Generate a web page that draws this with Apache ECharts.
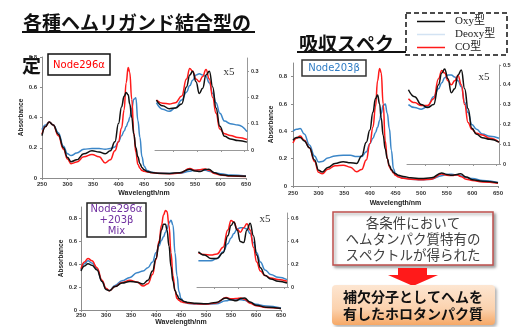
<!DOCTYPE html>
<html>
<head>
<meta charset="utf-8">
<script src="https://cdn.jsdelivr.net/npm/echarts@6/dist/echarts.min.js"></script>
<style>
  html, body { margin: 0; padding: 0; background: #fff; }
  #chart { width: 514px; height: 327px; }
</style>
</head>
<body>
<div id="chart"></div>
<script>
// wavelengths (nm) sampled for the full spectra
const wl = [250, 257, 264, 272, 282, 292, 300, 307, 318, 332, 348, 362, 374, 384, 393, 400, 406, 411, 415, 419,
  422, 426, 430, 434, 438, 442, 446, 450, 456, 465, 480, 500, 520, 540, 550, 560, 570, 577, 588, 600, 620, 650];
// wavelengths for the x5 insets (Q band region)
const wlQ = [465, 478, 492, 505, 518, 528, 535, 541, 548, 555, 562, 569, 576, 583, 590, 598, 608, 620, 636, 655];

// Node296α
const oxy1 = [0.28, 0.34, 0.37, 0.35, 0.29, 0.2, 0.135, 0.108, 0.12, 0.16, 0.18, 0.172, 0.16, 0.18, 0.24, 0.36, 0.47, 0.54, 0.565, 0.55,
  0.49, 0.4, 0.29, 0.2, 0.14, 0.095, 0.07, 0.055, 0.043, 0.036, 0.031, 0.03, 0.035, 0.058, 0.046, 0.043, 0.056, 0.058, 0.035, 0.022, 0.015, 0.012];
const deoxy1 = [0.32, 0.35, 0.37, 0.35, 0.3, 0.21, 0.16, 0.148, 0.165, 0.19, 0.195, 0.195, 0.19, 0.195, 0.205, 0.24, 0.28, 0.31, 0.34, 0.37,
  0.4, 0.46, 0.52, 0.53, 0.38, 0.27, 0.14, 0.08, 0.05, 0.038, 0.032, 0.03, 0.032, 0.045, 0.052, 0.055, 0.052, 0.045, 0.035, 0.028, 0.02, 0.014];
const co1 = [0.29, 0.34, 0.37, 0.35, 0.28, 0.19, 0.125, 0.095, 0.105, 0.14, 0.155, 0.14, 0.1, 0.12, 0.18, 0.24, 0.33, 0.45, 0.63, 0.73,
  0.7, 0.52, 0.3, 0.17, 0.09, 0.065, 0.05, 0.045, 0.04, 0.035, 0.03, 0.028, 0.033, 0.062, 0.052, 0.055, 0.06, 0.052, 0.03, 0.02, 0.013, 0.01];
const oxyQ1 = [0.19, 0.168, 0.157, 0.16, 0.175, 0.24, 0.285, 0.3, 0.26, 0.215, 0.235, 0.285, 0.3, 0.24, 0.16, 0.09, 0.052, 0.042, 0.036, 0.03];
const deoxyQ1 = [0.18, 0.155, 0.147, 0.16, 0.19, 0.22, 0.245, 0.265, 0.285, 0.29, 0.285, 0.28, 0.255, 0.215, 0.18, 0.14, 0.11, 0.1, 0.095, 0.07];
const coQ1 = [0.19, 0.178, 0.175, 0.18, 0.205, 0.27, 0.31, 0.3, 0.27, 0.26, 0.28, 0.306, 0.27, 0.2, 0.14, 0.08, 0.062, 0.055, 0.048, 0.04];

// Node203β
const oxy2 = [0.335, 0.355, 0.355, 0.33, 0.28, 0.19, 0.115, 0.103, 0.135, 0.165, 0.178, 0.17, 0.165, 0.22, 0.32, 0.41, 0.54, 0.64, 0.665, 0.6,
  0.5, 0.37, 0.27, 0.2, 0.15, 0.12, 0.1, 0.09, 0.078, 0.07, 0.06, 0.055, 0.06, 0.095, 0.085, 0.078, 0.085, 0.09, 0.065, 0.046, 0.035, 0.024];
const deoxy2 = [0.4, 0.415, 0.42, 0.38, 0.3, 0.22, 0.176, 0.18, 0.205, 0.22, 0.225, 0.225, 0.215, 0.215, 0.25, 0.31, 0.35, 0.39, 0.43, 0.48,
  0.53, 0.59, 0.6, 0.53, 0.42, 0.26, 0.127, 0.09, 0.07, 0.058, 0.05, 0.046, 0.05, 0.075, 0.085, 0.086, 0.08, 0.075, 0.062, 0.054, 0.04, 0.026];
const co2 = [0.315, 0.35, 0.365, 0.335, 0.28, 0.18, 0.1, 0.09, 0.122, 0.148, 0.152, 0.138, 0.105, 0.12, 0.19, 0.31, 0.43, 0.58, 0.77, 0.86,
  0.83, 0.6, 0.33, 0.2, 0.14, 0.115, 0.095, 0.078, 0.065, 0.056, 0.05, 0.046, 0.05, 0.088, 0.078, 0.076, 0.082, 0.07, 0.05, 0.04, 0.03, 0.02];
const oxyQ2 = [0.375, 0.34, 0.3, 0.285, 0.3, 0.4, 0.46, 0.48, 0.43, 0.36, 0.38, 0.45, 0.475, 0.38, 0.28, 0.18, 0.15, 0.133, 0.125, 0.11];
const deoxyQ2 = [0.3, 0.285, 0.277, 0.29, 0.34, 0.38, 0.41, 0.435, 0.45, 0.45, 0.44, 0.42, 0.39, 0.31, 0.26, 0.2, 0.175, 0.152, 0.14, 0.13];
const coQ2 = [0.33, 0.31, 0.295, 0.295, 0.33, 0.43, 0.472, 0.46, 0.42, 0.4, 0.42, 0.447, 0.4, 0.3, 0.21, 0.175, 0.155, 0.147, 0.13, 0.11];

// Node296α + 203β Mix
const oxy3 = [0.34, 0.385, 0.405, 0.39, 0.35, 0.25, 0.18, 0.168, 0.205, 0.235, 0.25, 0.243, 0.228, 0.26, 0.34, 0.45, 0.58, 0.7, 0.75, 0.75,
  0.7, 0.56, 0.38, 0.25, 0.17, 0.13, 0.1, 0.09, 0.075, 0.065, 0.058, 0.055, 0.065, 0.105, 0.09, 0.08, 0.1, 0.105, 0.07, 0.042, 0.025, 0.013];
const deoxy3 = [0.35, 0.405, 0.43, 0.41, 0.36, 0.25, 0.185, 0.17, 0.215, 0.255, 0.285, 0.325, 0.34, 0.37, 0.42, 0.5, 0.56, 0.61, 0.64, 0.68,
  0.71, 0.76, 0.785, 0.74, 0.5, 0.3, 0.16, 0.1, 0.068, 0.056, 0.052, 0.05, 0.055, 0.08, 0.09, 0.09, 0.09, 0.085, 0.065, 0.05, 0.035, 0.018];
const co3 = [0.36, 0.42, 0.45, 0.43, 0.37, 0.26, 0.19, 0.168, 0.205, 0.24, 0.26, 0.245, 0.21, 0.23, 0.31, 0.44, 0.6, 0.74, 0.83, 0.87,
  0.86, 0.74, 0.5, 0.3, 0.17, 0.1, 0.085, 0.073, 0.065, 0.06, 0.055, 0.052, 0.062, 0.11, 0.098, 0.1, 0.105, 0.095, 0.06, 0.038, 0.022, 0.012];
const oxyQ3 = [0.31, 0.28, 0.25, 0.25, 0.3, 0.45, 0.54, 0.57, 0.5, 0.4, 0.39, 0.5, 0.56, 0.45, 0.28, 0.17, 0.1, 0.07, 0.05, 0.035];
const deoxyQ3 = [0.23, 0.23, 0.23, 0.25, 0.31, 0.38, 0.43, 0.47, 0.51, 0.52, 0.52, 0.51, 0.47, 0.39, 0.3, 0.22, 0.15, 0.11, 0.085, 0.065];
const coQ3 = [0.3, 0.285, 0.28, 0.29, 0.35, 0.5, 0.585, 0.57, 0.51, 0.48, 0.52, 0.555, 0.5, 0.35, 0.22, 0.14, 0.1, 0.08, 0.065, 0.05];

// tick labels
const yTicksMain = [0, 0.2, 0.4, 0.6, 0.8];
const yTicksQ1 = [0, 0.1, 0.2, 0.3];
const yTicksQ2 = [0, 0.1, 0.2, 0.3, 0.4, 0.5];
const yTicksQ3 = [0, 0.2, 0.4, 0.6];
const xTicksQ = [500, 550, 600, 650];

const names = ['Oxy型', 'Deoxy型', 'CO型'];
const colors = ['#111111', '#3b86c8', '#ff1a1a'];

const chart = echarts.init(document.getElementById('chart'));

function pairs(xs, ys) {
  return xs.map((x, i) => [x, ys[i]]);
}

function line(k, xs, ys, idx) {
  return {
    name: names[k],
    type: 'line',
    xAxisIndex: idx,
    yAxisIndex: idx,
    data: pairs(xs, ys),
    symbol: 'none',
    smooth: 0.45,
    smoothMonotone: 'x',
    lineStyle: { color: colors[k], width: 1.5 },
    itemStyle: { color: colors[k] },
    z: k === 0 ? 4 : (k === 2 ? 3 : 2),
  };
}

const axisColor = '#8c8c8c';
const labelFont = { fontSize: 6, fontWeight: 'bold', color: '#333', fontFamily: 'Liberation Sans' };
const fmt = (v) => (v === 0 ? '0' : String(v));

function mainX(idx, margin, gap) {
  return {
    type: 'value', gridIndex: idx, min: 250, max: 650, interval: 50,
    axisLine: { lineStyle: { color: axisColor } },
    axisTick: { length: 2, lineStyle: { color: axisColor } },
    axisLabel: Object.assign({ margin: margin }, labelFont),
    splitLine: { show: false },
    name: 'Wavelength/nm', nameLocation: 'middle', nameGap: gap,
    nameTextStyle: { fontSize: 7, fontWeight: 'bold', color: '#222' },
  };
}

function mainY(idx, max, margin, gap) {
  return {
    type: 'value', gridIndex: idx, min: 0, max: max,
    axisLine: { show: true, lineStyle: { color: axisColor } },
    axisTick: { show: true, length: 2, customValues: yTicksMain, lineStyle: { color: axisColor } },
    axisLabel: Object.assign({ margin: margin, customValues: yTicksMain, formatter: fmt }, labelFont),
    splitLine: { show: false },
    name: 'Absorbance', nameLocation: 'middle', nameGap: gap, nameRotate: 90,
    nameTextStyle: { fontSize: 6.5, fontWeight: 'bold', color: '#222' },
  };
}

function insetX(idx) {
  return {
    type: 'value', gridIndex: idx, min: 462, max: 655,
    axisLine: { lineStyle: { color: '#999' } },
    axisTick: { length: 2, customValues: xTicksQ, lineStyle: { color: '#999' } },
    axisLabel: { show: false },
    splitLine: { show: false },
  };
}

function insetY(idx, max, ticks) {
  return {
    type: 'value', gridIndex: idx, min: 0, max: max, position: 'right',
    axisLine: { show: true, lineStyle: { color: '#999' } },
    axisTick: { show: true, length: 2, customValues: ticks, lineStyle: { color: '#999' } },
    axisLabel: Object.assign({ margin: 4, customValues: ticks, formatter: fmt }, labelFont, { fontSize: 5.5 }),
    splitLine: { show: false },
  };
}

const serif = "'Liberation Serif', 'DejaVu Serif', 'Noto Sans CJK JP'";
const jp = "'Noto Sans CJK JP'";

const option = {
  animation: false,
  backgroundColor: '#ffffff',
  grid: [
    { left: 42, top: 57, width: 204, height: 121 },
    { left: 293, top: 63, width: 205, height: 123 },
    { left: 81, top: 207, width: 200, height: 105 },
    { left: 155, top: 58, width: 92, height: 92 },
    { left: 407, top: 65, width: 92, height: 99 },
    { left: 197, top: 213, width: 90, height: 74 },
  ],
  xAxis: [
    mainX(0, 3, 12), mainX(1, 4, 14), mainX(2, 2, 9),
    insetX(3), insetX(4), insetX(5),
  ],
  yAxis: [
    mainY(0, 0.8, 5, 17), mainY(1, 0.9, 6, 17), mainY(2, 0.9, 4, 13),
    insetY(3, 0.35, yTicksQ1), insetY(4, 0.5, yTicksQ2), insetY(5, 0.65, yTicksQ3),
  ],
  legend: {
    left: 417, top: 15, orient: 'vertical', padding: 0,
    icon: 'rect', itemWidth: 28, itemHeight: 1.5, itemGap: 0,
    textStyle: { fontSize: 11, color: '#222', fontFamily: serif, padding: [0, 0, 0, 5], lineHeight: 13 },
    selectedMode: false, z: 10,
    data: [
      { name: 'Oxy型' },
      { name: 'Deoxy型', itemStyle: { color: '#d3e3f3' } },
      { name: 'CO型' },
    ],
  },
  series: [
    line(0, wl, oxy1, 0), line(1, wl, deoxy1, 0), line(2, wl, co1, 0),
    line(0, wl, oxy2, 1), line(1, wl, deoxy2, 1), line(2, wl, co2, 1),
    line(0, wl, oxy3, 2), line(1, wl, deoxy3, 2), line(2, wl, co3, 2),
    line(0, wlQ, oxyQ1, 3), line(1, wlQ, deoxyQ1, 3), line(2, wlQ, coQ1, 3),
    line(0, wlQ, oxyQ2, 4), line(1, wlQ, deoxyQ2, 4), line(2, wlQ, coQ2, 4),
    line(0, wlQ, oxyQ3, 5), line(1, wlQ, deoxyQ3, 5), line(2, wlQ, coQ3, 5),
  ],
  graphic: [
    // slide title pieces
    { type: 'text', x: 23, y: 23, style: { text: '各種ヘムリガンド結合型の', fontSize: 19, fontWeight: 'bold', fontFamily: jp, fill: '#111', verticalAlign: 'middle' } },
    { type: 'line', shape: { x1: 22, y1: 32, x2: 255, y2: 32 }, style: { stroke: '#111', lineWidth: 2 } },
    { type: 'text', x: 299, y: 44, style: { text: '吸収スペク', fontSize: 19, fontWeight: 'bold', fontFamily: jp, fill: '#111', verticalAlign: 'middle' } },
    { type: 'line', shape: { x1: 297, y1: 52, x2: 406, y2: 52 }, style: { stroke: '#111', lineWidth: 2 } },
    { type: 'text', x: 22, y: 66, style: { text: '定', fontSize: 19, fontWeight: 'bold', fontFamily: jp, fill: '#111', verticalAlign: 'middle' } },
    // legend frame
    { type: 'rect', z: 5, shape: { x: 406, y: 13, width: 101, height: 42 }, style: { fill: '#fff', stroke: '#111', lineWidth: 1.5, lineDash: [5, 3] } },
    // sample labels
    { type: 'rect', z: 5, shape: { x: 48, y: 54, width: 62, height: 21 }, style: { fill: '#fff', stroke: '#111', lineWidth: 1.5 } },
    { type: 'text', z: 6, x: 79, y: 65, style: { text: 'Node296α', fontSize: 10, fontFamily: 'DejaVu Sans', fill: '#ff0000', align: 'center', verticalAlign: 'middle' } },
    { type: 'rect', z: 5, shape: { x: 302, y: 60, width: 64, height: 16 }, style: { fill: '#fff', stroke: '#333', lineWidth: 1.5 } },
    { type: 'text', z: 6, x: 334, y: 68, style: { text: 'Node203β', fontSize: 10, fontFamily: 'DejaVu Sans', fill: '#2f7cc4', align: 'center', verticalAlign: 'middle' } },
    { type: 'rect', z: 5, shape: { x: 87, y: 203, width: 59, height: 34 }, style: { fill: '#fff', stroke: '#222', lineWidth: 1.5 } },
    { type: 'text', z: 6, x: 116.5, y: 220, style: { text: 'Node296α\n+203β\nMix', fontSize: 10, lineHeight: 11, fontFamily: 'DejaVu Sans', fill: '#7030a0', align: 'center', verticalAlign: 'middle' } },
    // x5 marks
    { type: 'text', z: 6, x: 229, y: 72, style: { text: 'x5', fontSize: 11, fontFamily: serif, fill: '#333', align: 'center', verticalAlign: 'middle' } },
    { type: 'text', z: 6, x: 484, y: 77, style: { text: 'x5', fontSize: 11, fontFamily: serif, fill: '#333', align: 'center', verticalAlign: 'middle' } },
    { type: 'text', z: 6, x: 265, y: 219, style: { text: 'x5', fontSize: 11, fontFamily: serif, fill: '#333', align: 'center', verticalAlign: 'middle' } },
    // conclusion boxes
    { type: 'rect', z: 5, shape: { x: 333, y: 212, width: 160, height: 53 }, style: { fill: '#fff', stroke: '#c0504d', lineWidth: 1.5, shadowBlur: 3, shadowOffsetX: 2, shadowOffsetY: 2, shadowColor: 'rgba(0,0,0,0.35)' } },
    { type: 'text', z: 6, x: 413, y: 239, style: { text: '各条件において\nヘムタンパク質特有の\nスペクトルが得られた', fontSize: 13.5, lineHeight: 16, fontFamily: jp, fill: '#404040', align: 'center', verticalAlign: 'middle' } },
    { type: 'polygon', z: 5, shape: { points: [[398, 268], [427, 268], [427, 275], [438, 275], [413, 286], [388, 275], [398, 275]] }, style: { fill: '#ff1a1a' } },
    { type: 'rect', z: 5, shape: { x: 332, y: 285, width: 163, height: 40, r: 4 }, style: {
      fill: new echarts.graphic.LinearGradient(0, 0, 0, 1, [
        { offset: 0, color: '#fde6d2' }, { offset: 0.6, color: '#fbd2ae' }, { offset: 1, color: '#f6a866' }]),
      shadowBlur: 3, shadowOffsetX: 2, shadowOffsetY: 2, shadowColor: 'rgba(0,0,0,0.3)' } },
    { type: 'text', z: 6, x: 413, y: 305, style: { text: '補欠分子としてヘムを\n有したホロタンパク質', fontSize: 14, lineHeight: 17, fontWeight: 'bold', fontFamily: jp, fill: '#111', align: 'center', verticalAlign: 'middle' } },
  ],
};

chart.setOption(option);
</script>
</body>
</html>
